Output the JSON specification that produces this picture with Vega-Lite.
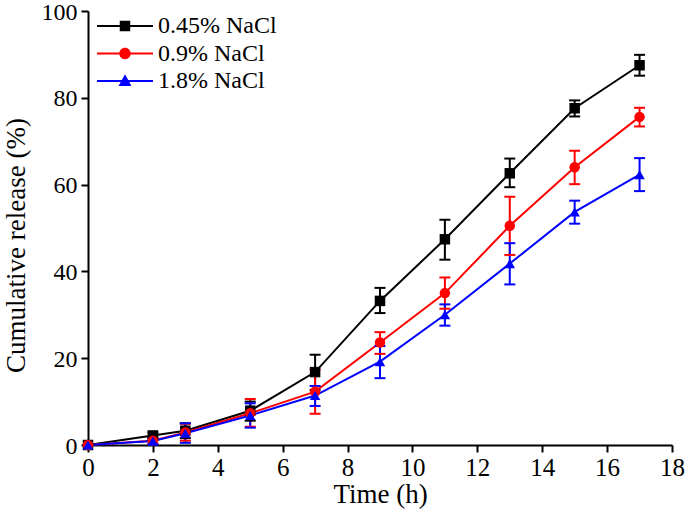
{
  "$schema": "https://vega.github.io/schema/vega-lite/v6.json",
  "autosize": "none",
  "width": 584,
  "height": 434,
  "padding": {"left": 88, "top": 11, "right": 13, "bottom": 84},
  "background": "white",
  "config": {
    "font": "Liberation Serif, Times New Roman, serif",
    "view": {"stroke": null},
    "axis": {
      "domainColor": "black", "domainWidth": 2, "tickColor": "black", "tickWidth": 2, "tickSize": 7,
      "labelColor": "black", "labelFontSize": 25, "labelFont": "Liberation Serif, Times New Roman, serif", "grid": false,
      "titleColor": "black", "titleFontSize": 27, "titleFontWeight": "normal", "titleFont": "Liberation Serif, Times New Roman, serif"
    },
    "legend": {"labelFont": "Liberation Serif, Times New Roman, serif"}
  },
  "data": {"values": [
    {"series": "0.45% NaCl", "time": 0, "value": 0, "lo": 0, "hi": 0},
    {"series": "0.45% NaCl", "time": 2, "value": 2.2, "lo": 1.5, "hi": 2.9},
    {"series": "0.45% NaCl", "time": 3, "value": 3.3, "lo": 1.6, "hi": 5.0},
    {"series": "0.45% NaCl", "time": 5, "value": 7.9, "lo": 5.6, "hi": 10.0},
    {"series": "0.45% NaCl", "time": 7, "value": 16.8, "lo": 12.7, "hi": 20.8},
    {"series": "0.45% NaCl", "time": 9, "value": 33.2, "lo": 30.4, "hi": 36.2},
    {"series": "0.45% NaCl", "time": 11, "value": 47.4, "lo": 42.7, "hi": 51.9},
    {"series": "0.45% NaCl", "time": 13, "value": 62.6, "lo": 59.4, "hi": 66.0},
    {"series": "0.45% NaCl", "time": 15, "value": 77.6, "lo": 75.7, "hi": 79.4},
    {"series": "0.45% NaCl", "time": 17, "value": 87.5, "lo": 85.1, "hi": 89.9},
    {"series": "0.9% NaCl", "time": 0, "value": 0, "lo": 0, "hi": 0},
    {"series": "0.9% NaCl", "time": 2, "value": 1.0, "lo": 0.3, "hi": 1.7},
    {"series": "0.9% NaCl", "time": 3, "value": 2.9, "lo": 1.0, "hi": 4.9},
    {"series": "0.9% NaCl", "time": 5, "value": 7.3, "lo": 4.2, "hi": 10.6},
    {"series": "0.9% NaCl", "time": 7, "value": 12.3, "lo": 7.2, "hi": 17.4},
    {"series": "0.9% NaCl", "time": 9, "value": 23.6, "lo": 21.0, "hi": 26.0},
    {"series": "0.9% NaCl", "time": 11, "value": 35.0, "lo": 31.4, "hi": 38.6},
    {"series": "0.9% NaCl", "time": 13, "value": 50.5, "lo": 43.8, "hi": 57.2},
    {"series": "0.9% NaCl", "time": 15, "value": 64.0, "lo": 60.1, "hi": 67.8},
    {"series": "0.9% NaCl", "time": 17, "value": 75.6, "lo": 73.4, "hi": 77.7},
    {"series": "1.8% NaCl", "time": 0, "value": 0, "lo": 0, "hi": 0},
    {"series": "1.8% NaCl", "time": 2, "value": 0.9, "lo": 0.2, "hi": 1.6},
    {"series": "1.8% NaCl", "time": 3, "value": 2.7, "lo": 0.5, "hi": 5.0},
    {"series": "1.8% NaCl", "time": 5, "value": 6.8, "lo": 4.0, "hi": 9.6},
    {"series": "1.8% NaCl", "time": 7, "value": 11.4, "lo": 9.0, "hi": 13.6},
    {"series": "1.8% NaCl", "time": 9, "value": 19.2, "lo": 15.4, "hi": 22.8},
    {"series": "1.8% NaCl", "time": 11, "value": 30.0, "lo": 27.5, "hi": 32.4},
    {"series": "1.8% NaCl", "time": 13, "value": 41.8, "lo": 37.0, "hi": 46.5},
    {"series": "1.8% NaCl", "time": 15, "value": 53.7, "lo": 51.0, "hi": 56.3},
    {"series": "1.8% NaCl", "time": 17, "value": 62.3, "lo": 58.5, "hi": 66.1}
  ]},
  "encoding": {
    "x": {"field": "time", "type": "quantitative", "scale": {"domain": [0, 18]},
          "axis": {"values": [0, 2, 4, 6, 8, 10, 12, 14, 16, 18], "title": "Time (h)", "titlePadding": 1, "labelPadding": 3, "labelFlush": false}},
    "color": {"field": "series", "type": "nominal",
              "scale": {"domain": ["0.45% NaCl", "0.9% NaCl", "1.8% NaCl"], "range": ["#000000", "#ff0000", "#0000ff"]}}
  },
  "layer": [
    {
      "mark": {"type": "line", "strokeWidth": 2},
      "encoding": {
        "y": {"field": "value", "type": "quantitative", "scale": {"domain": [0, 100]},
              "axis": {"values": [0, 20, 40, 60, 80, 100], "title": "Cumulative release (%)", "titlePadding": 11, "titleY": 234, "labelPadding": 4, "labelFontSize": 24, "labelOffset": 1, "labelFlush": false}},
        "color": {"field": "series", "type": "nominal",
          "legend": {
            "orient": "none", "legendX": 25, "legendY": 3, "title": null, "padding": 0,
            "labelFontSize": 24, "labelFont": "Liberation Serif, Times New Roman, serif", "labelColor": "black",
            "labelOffset": 21, "rowPadding": 3.5, "symbolSize": 196, "symbolStrokeWidth": 0,
            "encode": {"symbols": {"update": {
              "shape": {"signal": "datum.value === '0.45% NaCl' ? 'M-4,-0.15H4V0.15H-4ZM-0.75,-0.75H0.75V0.75H-0.75Z' : datum.value === '0.9% NaCl' ? 'M-4,-0.15H4V0.15H-4ZM0.82,0A0.82,0.82,0,1,1,-0.82,0A0.82,0.82,0,1,1,0.82,0Z' : 'M-4,-0.15H4V0.15H-4ZM0,-0.95L0.92,0.72L-0.92,0.72Z'"},
              "fill": {"scale": "color", "field": "value"},
              "strokeWidth": {"value": 0},
              "opacity": {"value": 1},
              "fillOpacity": {"value": 1}
            }}}
          }}
      }
    },
    {
      "mark": {"type": "rule", "strokeWidth": 2},
      "encoding": {
        "y": {"field": "lo", "type": "quantitative"},
        "y2": {"field": "hi"},
        "color": {"field": "series", "type": "nominal", "legend": null}
      }
    },
    {
      "mark": {"type": "tick", "orient": "horizontal", "size": 11, "thickness": 2, "opacity": 1},
      "encoding": {
        "y": {"field": "lo", "type": "quantitative"},
        "color": {"field": "series", "type": "nominal", "legend": null}
      }
    },
    {
      "mark": {"type": "tick", "orient": "horizontal", "size": 11, "thickness": 2, "opacity": 1},
      "encoding": {
        "y": {"field": "hi", "type": "quantitative"},
        "color": {"field": "series", "type": "nominal", "legend": null}
      }
    },
    {
      "transform": [{"filter": "datum.series === '0.45% NaCl'"}],
      "mark": {"type": "point", "filled": true, "opacity": 1, "size": 110, "shape": "square"},
      "encoding": {
        "y": {"field": "value", "type": "quantitative"},
        "color": {"field": "series", "type": "nominal", "legend": null}
      }
    },
    {
      "transform": [{"filter": "datum.series === '0.9% NaCl'"}],
      "mark": {"type": "point", "filled": true, "opacity": 1, "size": 110, "shape": "circle"},
      "encoding": {
        "y": {"field": "value", "type": "quantitative"},
        "color": {"field": "series", "type": "nominal", "legend": null}
      }
    },
    {
      "transform": [{"filter": "datum.series === '1.8% NaCl'"}],
      "mark": {"type": "point", "filled": true, "opacity": 1, "size": 110, "shape": "triangle-up"},
      "encoding": {
        "y": {"field": "value", "type": "quantitative"},
        "color": {"field": "series", "type": "nominal", "legend": null}
      }
    }
  ]
}
